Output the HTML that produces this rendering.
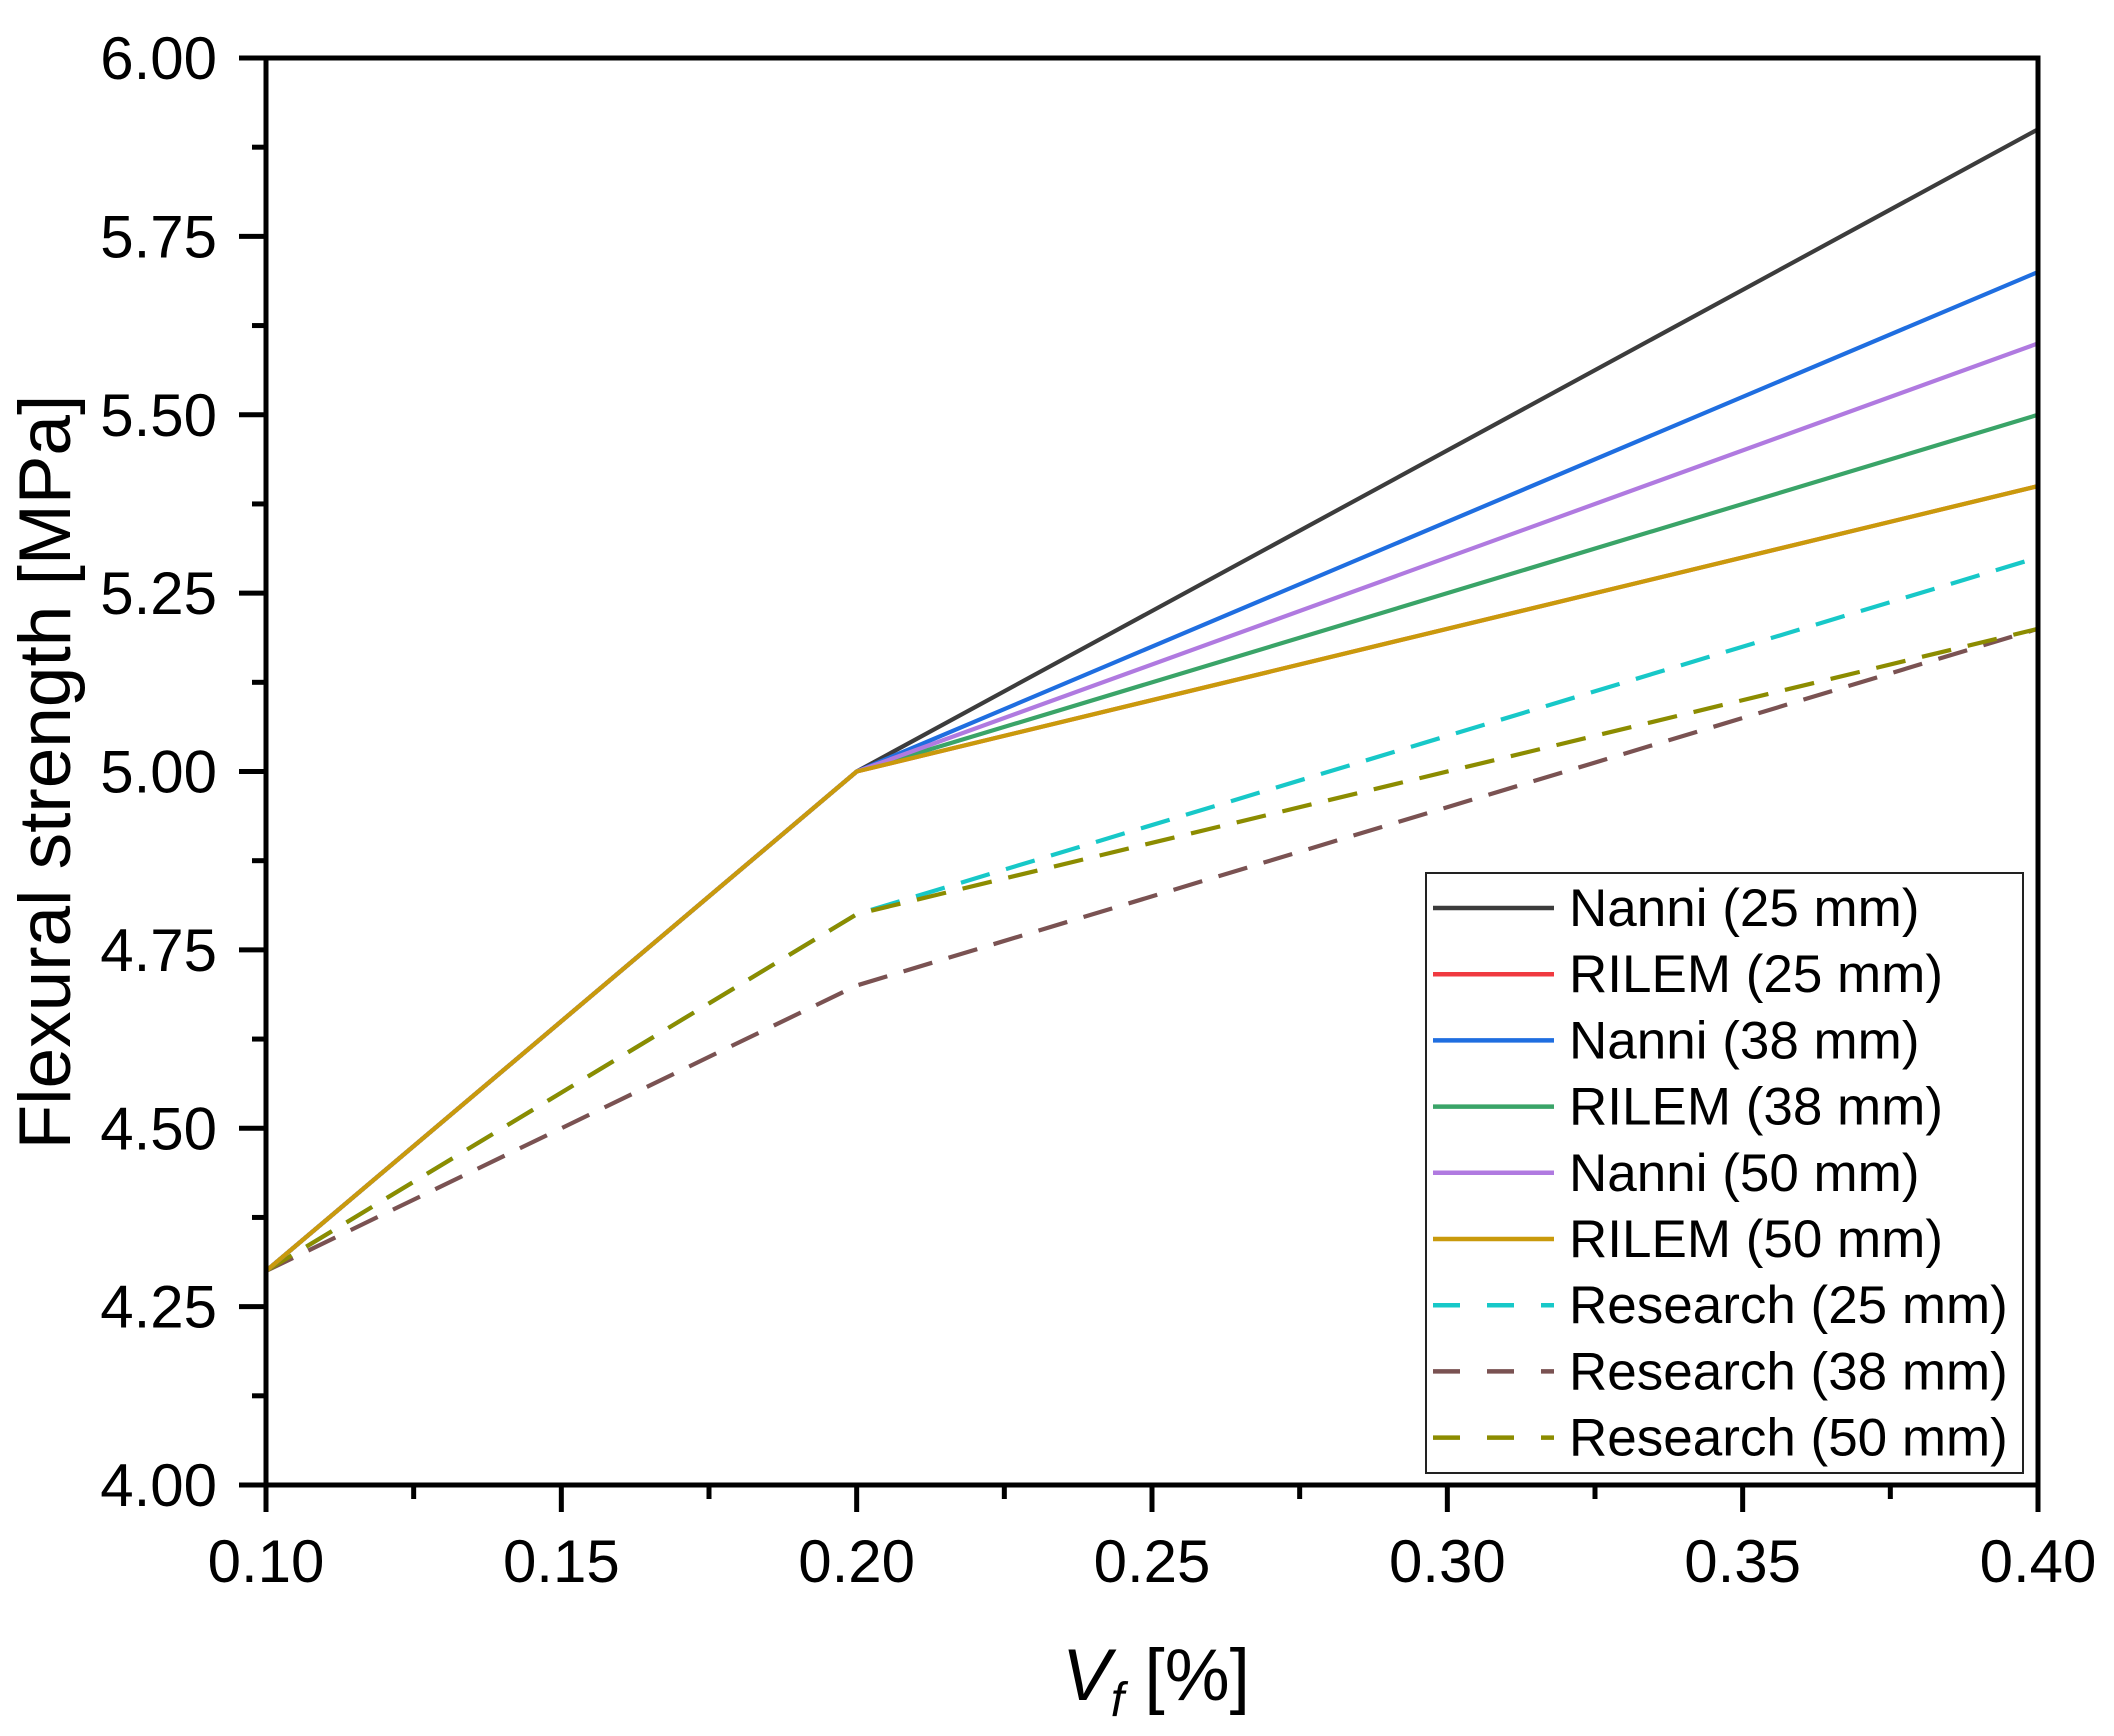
<!DOCTYPE html>
<html><head><meta charset="utf-8"><style>
html,body{margin:0;padding:0;background:#fff;}
svg{display:block;font-family:"Liberation Sans",sans-serif;}
</style></head><body>
<svg id="chart" width="2114" height="1736" viewBox="0 0 2114 1736">
<g id="plot"></g>
</svg>
<script>
const xValues=[0.10,0.20,0.40];
const seriesNames=["Nanni (25 mm)","RILEM (25 mm)","Nanni (38 mm)","RILEM (38 mm)","Nanni (50 mm)","RILEM (50 mm)","Research (25 mm)","Research (38 mm)","Research (50 mm)"];
const nanni25=[4.30,5.00,5.90];
const rilem25=[4.30,5.00,5.40];
const nanni38=[4.30,5.00,5.70];
const rilem38=[4.30,5.00,5.50];
const nanni50=[4.30,5.00,5.60];
const rilem50=[4.30,5.00,5.40];
const research25=[4.30,4.80,5.30];
const research38=[4.30,4.70,5.20];
const research50=[4.30,4.80,5.20];
const xTicks=["0.10","0.15","0.20","0.25","0.30","0.35","0.40"];
const yTicks=["4.00","4.25","4.50","4.75","5.00","5.25","5.50","5.75","6.00"];

const NS="http://www.w3.org/2000/svg";
const L=266,R=2038,T=58,B=1485;
const xMin=0.1,xMax=0.4,yMin=4,yMax=6;
const xs=v=>L+(v-xMin)/(xMax-xMin)*(R-L);
const ys=v=>B-(v-yMin)/(yMax-yMin)*(B-T);
const g=document.getElementById('plot');
function mk(tag,attrs,parent){const e=document.createElementNS(NS,tag);for(const k in attrs)e.setAttribute(k,attrs[k]);(parent||g).appendChild(e);return e;}

const series=[
 {d:nanni25,c:"#3c3c3c",dash:null,key:"nanni-25"},
 {d:rilem25,c:"#f03a40",dash:null,key:"rilem-25"},
 {d:nanni38,c:"#1f6ee0",dash:null,key:"nanni-38"},
 {d:rilem38,c:"#3aa468",dash:null,key:"rilem-38"},
 {d:nanni50,c:"#b07ae0",dash:null,key:"nanni-50"},
 {d:rilem50,c:"#c99a0c",dash:null,key:"rilem-50"},
 {d:research25,c:"#17c8c8",dash:"30 17",key:"research-25"},
 {d:research38,c:"#7a5252",dash:"30 17",key:"research-38"},
 {d:research50,c:"#8c8c00",dash:"30 17",key:"research-50"}
];
const order=[6,7,8,0,1,2,3,4,5];
order.forEach(i=>{const s=series[i];
 const pts=s.d.map((v,j)=>xs(xValues[j]).toFixed(1)+","+ys(v).toFixed(1)).join(" ");
 const p=mk('polyline',{points:pts,fill:"none",stroke:s.c,"stroke-width":4.2,"stroke-linejoin":"round"});
 if(s.dash)p.setAttribute('stroke-dasharray',s.dash);
 
 
});

const fr=mk('rect',{x:L,y:T,width:R-L,height:B-T,fill:"none",stroke:"#000","stroke-width":5});



yTicks.forEach((t,i)=>{const v=parseFloat(t),y=ys(v);
 mk('line',{x1:L-27,x2:L,y1:y,y2:y,stroke:"#000","stroke-width":5});
 if(i<yTicks.length-1){const ym=ys(v+0.125);mk('line',{x1:L-14,x2:L,y1:ym,y2:ym,stroke:"#000","stroke-width":5});}
 const tx=mk('text',{x:217,y:y+21,"text-anchor":"end","font-size":60,fill:"#000"});tx.textContent=t;
 
 
});
xTicks.forEach((t,i)=>{const v=parseFloat(t),x=xs(v);
 mk('line',{x1:x,x2:x,y1:B,y2:B+27,stroke:"#000","stroke-width":5});
 if(i<xTicks.length-1){const xm=xs(v+0.025);mk('line',{x1:xm,x2:xm,y1:B,y2:B+14,stroke:"#000","stroke-width":5});}
 const tx=mk('text',{x:x,y:1582,"text-anchor":"middle","font-size":60,fill:"#000"});tx.textContent=t;
 
 
});

const yt=mk('text',{x:0,y:0,transform:"translate(70,772) rotate(-90)","text-anchor":"middle","font-size":73,fill:"#000"});
yt.textContent="Flexural strength [MPa]";


const xt=mk('text',{x:1156,y:1700,"text-anchor":"middle","font-size":73,fill:"#000"});
xt.innerHTML='<tspan font-style="italic">V</tspan><tspan font-style="italic" font-size="48" dy="16">f</tspan><tspan dy="-16"> [%]</tspan>';



const lg=mk('g',{});


mk('rect',{x:1426,y:873,width:597,height:600,fill:"#fff",stroke:"#222","stroke-width":2},lg);
series.forEach((s,i)=>{const y=908+i*66.2;
 const e=mk('g',{},lg);
 
 
 const ln=mk('line',{x1:1433,x2:1554,y1:y,y2:y,stroke:s.c,"stroke-width":4.5},e);
 if(s.dash)ln.setAttribute('stroke-dasharray',"27 27");
 const t=mk('text',{x:1569,y:y+18,"font-size":53,fill:"#000"},e);t.textContent=seriesNames[i];
});
</script>
</body></html>
